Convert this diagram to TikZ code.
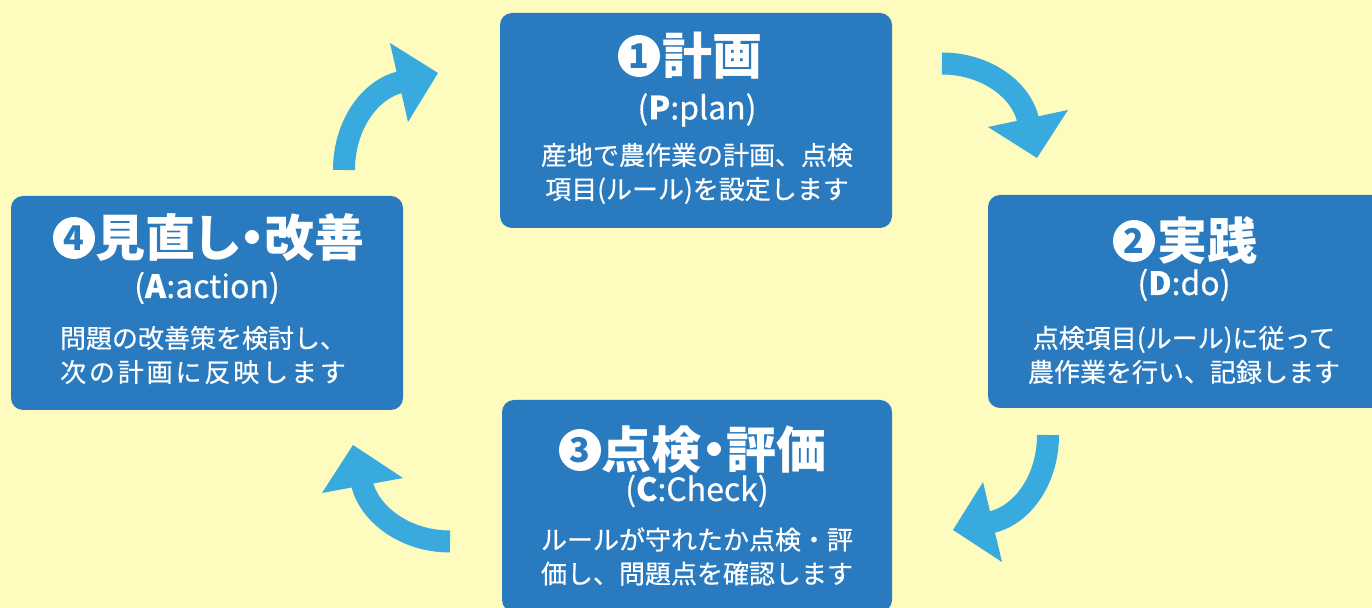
\documentclass[tikz,border=0pt]{standalone}
\usepackage{fontspec}
\setmainfont{Noto Sans CJK JP}
\newfontfamily\jpp{Noto Sans CJK JP}[RawFeature=+palt]
\newfontfamily\jpm{Noto Sans CJK JP}[FakeBold=0.5]
\definecolor{bg}{HTML}{FDFCBE}
\definecolor{boxblue}{HTML}{2A7ABF}
\definecolor{arrblue}{HTML}{38AADD}
\tikzset{
  pdcabox/.style={fill=boxblue, rounded corners=6pt, minimum width=196pt, inner sep=0pt, draw=none},
  ttl/.style={text=white, font=\jpp\fontsize{25}{28}\selectfont\bfseries, inner sep=0pt, anchor=west},
  subt/.style={text=white, font=\jpm\fontsize{16}{19}\selectfont, inner sep=0pt},
  bodytxt/.style={text=white, font=\jpm\fontsize{13}{17}\selectfont, align=center, inner sep=0pt},
  numc/.style={circle, fill=white, minimum size=21pt, inner sep=0pt, text=boxblue, font=\fontsize{17}{17}\selectfont\bfseries},
  shaft/.style={draw=arrblue, line width=11pt},
  head/.style={fill=arrblue, draw=none},
}
\begin{document}
\begin{tikzpicture}[x=0.5pt, y=-0.5pt]
\useasboundingbox (0,0) rectangle (1372,608);
\clip (0,0) rectangle (1372,608);
\fill[bg] (0,0) rectangle (1372,608);

% boxes
\node[pdcabox, minimum height=107.5pt] (b1) at (696,120.5) {};
\node[pdcabox, minimum width=198.5pt, minimum height=106.5pt] (b2) at (1186.5,301.5) {};
\node[pdcabox, minimum width=195pt, minimum height=106pt] (b3) at (697,506) {};
\node[pdcabox, minimum height=107pt] (b4) at (207,303) {};

% box 1
\node[numc] (c1) at (639,56) {1};
\node[ttl] (t1) at ([xshift=1pt]c1.east) {計画};
\node[subt] (s1) at (697,110) {(\textbf{P}:plan)};
\node[bodytxt] (d1) at (697,173.5) {産地で農作業の計画、点検\\項目(ルール)を設定します};

% box 2
\node[numc] (c2) at (1134,241) {2};
\node[ttl] (t2) at ([xshift=1pt]c2.east) {実践};
\node[subt] (s2) at (1184,285) {(\textbf{D}:do)};
\node[bodytxt] (d2) at (1184,355) {点検項目(ルール)に従って\\農作業を行い、記録します};

% box 3
\node[numc] (c3) at (580,450) {3};
\node[ttl] (t3) at (c3.east) {点検・評価};
\node[subt] (s3) at (697,491) {(\textbf{C}:Check)};
\node[bodytxt] (d3) at (697,556.5) {ルールが守れたか点検・評\\価し、問題点を確認します};

% box 4
\node[numc] (c4) at (74,238) {4};
\node[ttl] (t4) at (c4.east) {見直し・改善};
\node[subt] (s4) at (207,288) {(\textbf{A}:action)};
\node[bodytxt] (d4) at (203,355) {問題の改善策を検討し、\\{\addfontfeature{LetterSpace=11}次の計画に反映します}};

% arrow A (4 -> 1)
\coordinate (aAs) at (344,170);
\coordinate (aAe) at (401,82);
\draw[shaft] (aAs) .. controls (344,125) and (370,89) .. (aAe);
\fill[head] (390,43) -- (438,73) -- (408,122) -- cycle;

% arrow B (1 -> 2)
\coordinate (aBs) at (942,63.5);
\coordinate (aBe) at (1028,120);
\draw[shaft] (aBs) .. controls (985,63.5) and (1021,89) .. (aBe);
\fill[head] (988,127) -- (1068,110) -- (1037,158) -- cycle;

% arrow C (2 -> 3)
\coordinate (aCs) at (1048,435);
\coordinate (aCe) at (990,522.5);
\draw[shaft] (aCs) .. controls (1048,480) and (1022,516) .. (aCe);
\fill[head] (983,482) -- (953,530) -- (1002,562) -- cycle;

% arrow D (3 -> 4)
\coordinate (aDs) at (450,541.5);
\coordinate (aDe) at (362,483.5);
\draw[shaft] (aDs) .. controls (405,541.5) and (369,514) .. (aDe);
\fill[head] (322,493) -- (353,445) -- (403,478) -- cycle;
\end{tikzpicture}
\end{document}
